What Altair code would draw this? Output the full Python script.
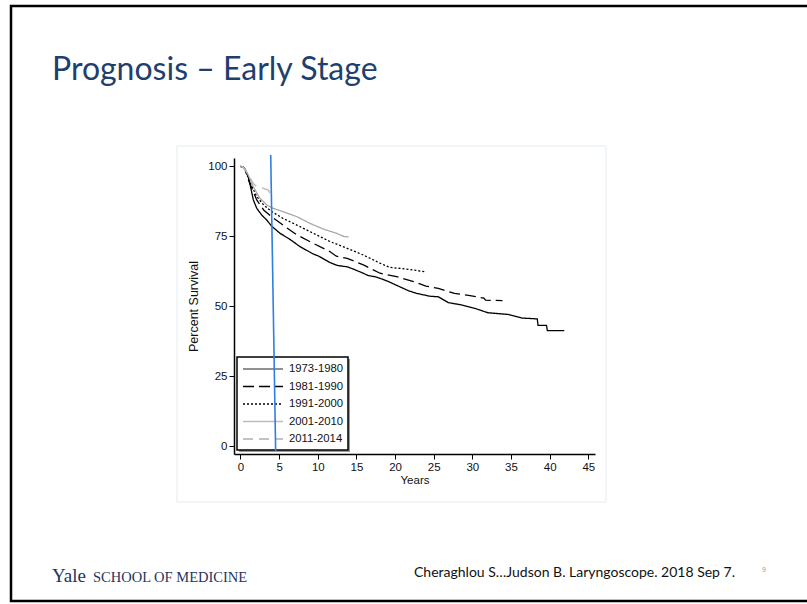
import altair as alt
import pandas as pd

series = ["1973-1980", "1981-1990", "1991-2000", "2001-2010", "2011-2014"]
colors = ["#000000", "#000000", "#000000", "#a8a8a8", "#b8b8b8"]
legend_colors = ["#6e6e6e", "#000000", "#000000", "#bcbcbc", "#b0b0b0"]
dashes = [[1, 0], [11, 5], [2, 2], [1, 0], [10, 6]]

yrs_7380 = [0, 0.3, 0.6, 1.0, 1.3, 1.66, 2.1, 2.74, 3.4, 4.0, 5.1, 6.4, 7.7, 9.4, 10.05, 11.6, 12.5,
            13.8, 14.5, 15.9, 16.5, 17.5, 18.05, 19, 20.2, 21.7, 22.8, 24.5, 25.6, 26.9, 28.6, 30.3,
            32, 34.6, 36.4, 38.4, 38.5, 39.6, 39.7, 41.9]
srv_7380 = [100, 99.8, 98.9, 96.3, 92.7, 88, 85, 82.6, 80.8, 78.7, 76.1, 73.9, 71.3, 68.7, 68.0, 65.6,
            64.6, 64.1, 63.4, 61.8, 61.0, 60.5, 60.0, 59.0, 57.5, 55.6, 54.6, 53.6, 53.4, 51.3, 50.5,
            49.3, 47.7, 47.1, 45.8, 45.5, 43.2, 43.2, 41.3, 41.3]

yrs_8190 = [0, 0.3, 0.6, 1.2, 2.1, 3.0, 4.0, 5.5, 7.3, 9.4, 11.6, 12.4, 13.8, 15.9, 18.05, 20.2, 22.4,
            24, 25.6, 27.7, 29.5, 31.5, 31.7, 33.9]
srv_8190 = [100, 99.7, 98.8, 93.9, 88, 84.4, 82, 79, 75.5, 72.5, 69.5, 67.9, 67.1, 64.8, 61.8, 60.6,
            58.8, 57.2, 56.4, 54.6, 53.9, 52.9, 52.2, 52.0]

yrs_9100 = [0, 0.3, 0.6, 1.2, 2.1, 3.0, 4.0, 5.5, 7.3, 9.4, 11.6, 13.8, 15.9, 18.05, 19.3, 21.5, 24.0]
srv_9100 = [100, 99.7, 98.8, 94.5, 89.2, 86.2, 83.9, 81.4, 79, 76.1, 73.1, 70.7, 68.3, 65.4, 63.9, 63.3, 62.3]

yrs_0110 = [0, 0.3, 0.6, 1.0, 1.66, 2.5, 3.4, 4.2, 5.5, 7.3, 9.0, 10.7, 12.4, 13.4, 14.0]
srv_0110 = [100, 99.7, 99, 96.9, 92.7, 88.6, 86.2, 85, 83.8, 82, 79.6, 77.6, 76.1, 74.9, 74.8]

yrs_1114 = [0, 0.3, 0.8, 1.66, 2.1, 3.0, 3.6, 3.8, 4.0]
srv_1114 = [100, 99.7, 97.9, 93.9, 92.7, 92.1, 91.5, 90.6, 90.4]

blue_years = [3.91, 4.55]
blue_surv = [104.0, -1.7]

x_ticks = [0, 5, 10, 15, 20, 25, 30, 35, 40, 45]
y_ticks = [0, 25, 50, 75, 100]

slide_title = "Prognosis \u2013 Early Stage"
citation = "Cheraghlou S\u2026Judson B. Laryngoscope. 2018 Sep 7."
page_no = "9"

rows = []
for name, xs, ys in zip(series,
                        [yrs_7380, yrs_8190, yrs_9100, yrs_0110, yrs_1114],
                        [srv_7380, srv_8190, srv_9100, srv_0110, srv_1114]):
    for i, (a, b) in enumerate(zip(xs, ys)):
        rows.append({"period": name, "years": a, "survival": b, "order": i})
df = pd.DataFrame(rows)

xscale = alt.Scale(domain=[-0.84, 45.87], nice=False, zero=False)
yscale = alt.Scale(domain=[-2.75, 102.96], nice=False, zero=False)
FONT = "Liberation Sans"

lines = alt.Chart(df).mark_line(strokeWidth=1.3, clip=False).encode(
    x=alt.X("years:Q", scale=xscale, title="Years",
            axis=alt.Axis(values=x_ticks, grid=False, domainColor="black", domainWidth=1.5,
                          tickColor="black", tickSize=5, labelFont=FONT, labelFontSize=11.5,
                          labelColor="#111", labelPadding=2, titleFont=FONT, titleFontSize=11.5,
                          titleFontWeight="normal", titleColor="#111", titlePadding=2, zindex=2)),
    y=alt.Y("survival:Q", scale=yscale, title="Percent Survival",
            axis=alt.Axis(values=y_ticks, grid=False, domainColor="black", domainWidth=1.5,
                          tickColor="black", tickSize=5, labelFont=FONT, labelFontSize=11.5,
                          labelColor="#111", labelPadding=2, titleFont=FONT, titleFontSize=12.5,
                          titleFontWeight="normal", titleColor="#111", titlePadding=7, zindex=2)),
    color=alt.Color("period:N", scale=alt.Scale(domain=series, range=colors), legend=None),
    strokeDash=alt.StrokeDash("period:N", scale=alt.Scale(domain=series, range=dashes), legend=None),
    order="order:Q",
)

blue = alt.Chart(pd.DataFrame({"x": [blue_years[0]], "x2": [blue_years[1]],
                               "y": [blue_surv[0]], "y2": [blue_surv[1]]})).mark_rule(
    color="#2f7fe0", strokeWidth=1.6).encode(x="x:Q", x2="x2:Q", y="y:Q", y2="y2:Q")

one = pd.DataFrame({"a": [0]})
chart_bg = alt.Chart(one).mark_rect(fill="white", stroke="#e6ecef", strokeWidth=1).encode(
    x=alt.value(-57), x2=alt.value(372), y=alt.value(-12), y2=alt.value(344))
slide_border = alt.Chart(one).mark_rect(fill=None, stroke="black", strokeWidth=2.5).encode(
    x=alt.value(-223), x2=alt.value(600), y=alt.value(-152), y2=alt.value(443))

# legend box (drawn manually so the rows are as close as in the reference)
leg_x0, leg_y0, leg_x1, leg_y1 = 3, 199, 114, 292
leg_row0, leg_step = 211, 17.5
legend_layers = [
    alt.Chart(one).mark_rect(fill="#9a9a9a", stroke=None).encode(
        x=alt.value(leg_x0 + 2), x2=alt.value(leg_x1 + 2), y=alt.value(leg_y0 + 2), y2=alt.value(leg_y1 + 2)),
    alt.Chart(one).mark_rect(fill="white", stroke="black", strokeWidth=1.5).encode(
        x=alt.value(leg_x0), x2=alt.value(leg_x1), y=alt.value(leg_y0), y2=alt.value(leg_y1)),
]
for i, name in enumerate(series):
    ry = leg_row0 + i * leg_step
    legend_layers.append(
        alt.Chart(pd.DataFrame({"p": [name]})).mark_rule(
            color=legend_colors[i], strokeDash=dashes[i], strokeWidth=1.6 if i == 0 else 1.3).encode(
            x=alt.value(leg_x0 + 6), x2=alt.value(leg_x0 + 46), y=alt.value(ry)))
    legend_layers.append(
        alt.Chart(pd.DataFrame({"p": [name]})).mark_text(
            font=FONT, fontSize=11.3, color="#111", align="left", baseline="middle").encode(
            text="p:N", x=alt.value(leg_x0 + 52), y=alt.value(ry)))

title_t = alt.Chart(pd.DataFrame({"t": [slide_title]})).mark_text(
    font="Lato", fontSize=32, color="#1f3f6e", align="left", baseline="alphabetic").encode(
    text="t:N", x=alt.value(-182), y=alt.value(-78))
yale_t = alt.Chart(pd.DataFrame({"t": ["Yale"]})).mark_text(
    font="Liberation Serif", fontSize=19, color="#1f3560", align="left", baseline="alphabetic").encode(
    text="t:N", x=alt.value(-182), y=alt.value(424))
som_t = alt.Chart(pd.DataFrame({"t": ["SCHOOL OF MEDICINE"]})).mark_text(
    font="Liberation Serif", fontSize=14.5, color="#1f3560", align="left", baseline="alphabetic").encode(
    text="t:N", x=alt.value(-141), y=alt.value(424))
cite_t = alt.Chart(pd.DataFrame({"t": [citation]})).mark_text(
    font="Lato", fontSize=14, color="#111", align="left", baseline="alphabetic").encode(
    text="t:N", x=alt.value(180), y=alt.value(419))
page_t = alt.Chart(pd.DataFrame({"t": [page_no]})).mark_text(
    font=FONT, fontSize=7, color="#999", align="left", baseline="middle").encode(
    text="t:N", x=alt.value(528), y=alt.value(412))

chart = alt.layer(slide_border, chart_bg, lines, *legend_layers, blue,
                  title_t, yale_t, som_t, cite_t, page_t).properties(
    width=361, height=296,
    padding={"left": 234, "top": 158, "right": 212, "bottom": 150},
    autosize=alt.AutoSizeParams(type="none"),
    background="white",
).configure_view(stroke=None)

chart.save("out.html", embed_options={"renderer": "svg", "actions": False})
